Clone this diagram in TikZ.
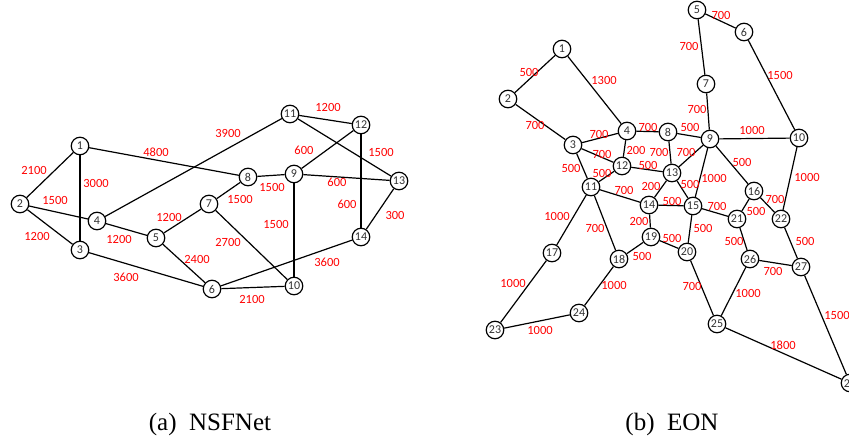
\documentclass[tikz,border=0pt]{standalone}
\usepackage{fontspec}
\setmainfont{Liberation Serif}
\newfontfamily\numfont{Carlito}
\usepackage{tikz}
\pgfdeclarelayer{bg}
\pgfsetlayers{bg,main}
\tikzset{
    site/.style={circle, inner sep=0mm, draw, line width=1.2pt, fill=white, minimum size=17.5pt,
        font=\numfont\fontsize{12}{12}\selectfont, text=black!80},
    wt/.style={inner sep=0mm, text=red, font=\numfont\fontsize{12.5}{12.5}\selectfont},
    link/.style={line width=1.2pt}
}

\begin{document}
\begin{tikzpicture}[x=1pt, y=-1pt]
    \useasboundingbox (0,0) rectangle (849,444);

    % NSFNet
    \node[site] (a1) at (80,146) {1};
    \node[site] (a2) at (20,204) {2};
    \node[site] (a3) at (80,250) {3};
    \node[site] (a4) at (97,221) {4};
    \node[site] (a5) at (156,238) {5};
    \node[site] (a6) at (212,289) {6};
    \node[site] (a7) at (209,204) {7};
    \node[site] (a8) at (248,177) {8};
    \node[site] (a9) at (294,174) {9};
    \node[site] (a10) at (294,286) {10};
    \node[site] (a11) at (290,114) {11};
    \node[site] (a12) at (361,125) {12};
    \node[site] (a13) at (399,181) {13};
    \node[site] (a14) at (361,237) {14};

    \node[wt] (wa1-2) at (34,170) {2100};
    \node[wt] (wa1-3) at (96,183) {3000};
    \node[wt] (wa1-8) at (156,152) {4800};
    \node[wt] (wa2-4) at (55,200) {1500};
    \node[wt] (wa2-3) at (37,236) {1200};
    \node[wt] (wa4-5) at (119,239) {1200};
    \node[wt] (wa5-7) at (169,217) {1200};
    \node[wt] (wa5-6) at (197,259) {2400};
    \node[wt] (wa3-6) at (126,277) {3600};
    \node[wt] (wa4-11) at (228,133) {3900};
    \node[wt] (wa11-12) at (328,107) {1200};
    \node[wt] (wa9-12) at (304,150) {600};
    \node[wt] (wa11-13) at (381,152) {1500};
    \node[wt] (wa8-9) at (272,187) {1500};
    \node[wt] (wa9-13) at (337,182) {600};
    \node[wt] (wa7-8) at (240,199) {1500};
    \node[wt] (wa12-14) at (347,204) {600};
    \node[wt] (wa13-14) at (395,215) {300};
    \node[wt] (wa9-10) at (276,224) {1500};
    \node[wt] (wa7-10) at (228,242) {2700};
    \node[wt] (wa6-14) at (327,262) {3600};
    \node[wt] (wa6-10) at (252,299) {2100};

    % EON
    \node[site] (b1) at (562,49) {1};
    \node[site] (b2) at (508,99) {2};
    \node[site] (b3) at (573,145) {3};
    \node[site] (b4) at (627,131) {4};
    \node[site] (b5) at (697,10) {5};
    \node[site] (b6) at (744,32) {6};
    \node[site] (b7) at (706,84) {7};
    \node[site] (b8) at (668,132) {8};
    \node[site] (b9) at (710,139) {9};
    \node[site] (b10) at (799,138) {10};
    \node[site] (b11) at (591,187) {11};
    \node[site] (b12) at (622,166) {12};
    \node[site] (b13) at (672,173) {13};
    \node[site] (b14) at (649,205) {14};
    \node[site] (b15) at (693,206) {15};
    \node[site] (b16) at (754,191) {16};
    \node[site] (b17) at (552,253) {17};
    \node[site] (b18) at (619,259) {18};
    \node[site] (b19) at (651,237) {19};
    \node[site] (b20) at (687,252) {20};
    \node[site] (b21) at (737,219) {21};
    \node[site] (b22) at (781,219) {22};
    \node[site] (b23) at (495,330) {23};
    \node[site] (b24) at (579,313) {24};
    \node[site] (b25) at (717,324) {25};
    \node[site] (b26) at (750,259) {26};
    \node[site] (b27) at (801,267) {27};
    \node[site] (b28) at (850,383) {28};

    \node[wt] (wb1-2) at (529,72) {500};
    \node[wt] (wb1-4) at (604,80) {1300};
    \node[wt] (wb2-3) at (535,125) {700};
    \node[wt] (wb3-4) at (599,134) {700};
    \node[wt] (wb4-8) at (648,127) {700};
    \node[wt] (wb3-12) at (602,154) {700};
    \node[wt] (wb4-12) at (636,150) {200};
    \node[wt] (wb8-13) at (659,152) {700};
    \node[wt] (wb3-11) at (571,168) {500};
    \node[wt] (wb11-12) at (602,173) {500};
    \node[wt] (wb12-13) at (648,165) {500};
    \node[wt] (wb5-6) at (721,15) {700};
    \node[wt] (wb5-7) at (689,46) {700};
    \node[wt] (wb6-10) at (780,75) {1500};
    \node[wt] (wb7-9) at (697,109) {700};
    \node[wt] (wb8-9) at (690,127) {500};
    \node[wt] (wb9-10) at (752,130) {1000};
    \node[wt] (wb9-13) at (686,152) {700};
    \node[wt] (wb9-16) at (742,162) {500};
    \node[wt] (wb9-15) at (714,178) {1000};
    \node[wt] (wb10-22) at (807,177) {1000};
    \node[wt] (wb11-14) at (624,190) {700};
    \node[wt] (wb13-14) at (651,186) {200};
    \node[wt] (wb13-15) at (690,184) {500};
    \node[wt] (wb14-15) at (672,201) {500};
    \node[wt] (wb15-21) at (717,206) {700};
    \node[wt] (wb14-19) at (639,221) {200};
    \node[wt] (wb15-20) at (703,228) {500};
    \node[wt] (wb11-18) at (595,228) {700};
    \node[wt] (wb11-17) at (557,216) {1000};
    \node[wt] (wb19-20) at (672,238) {500};
    \node[wt] (wb18-19) at (642,256) {500};
    \node[wt] (wb16-22) at (775,199) {700};
    \node[wt] (wb16-21) at (756,211) {500};
    \node[wt] (wb21-26) at (734,241) {500};
    \node[wt] (wb22-27) at (805,241) {500};
    \node[wt] (wb26-27) at (773,271) {700};
    \node[wt] (wb25-26) at (748,293) {1000};
    \node[wt] (wb17-23) at (513,283) {1000};
    \node[wt] (wb18-24) at (614,285) {1000};
    \node[wt] (wb23-24) at (540,330) {1000};
    \node[wt] (wb20-25) at (692,286) {700};
    \node[wt] (wb27-28) at (837,315) {1500};
    \node[wt] (wb25-28) at (783,345) {1800};

    % captions
    \node[inner sep=0mm, font=\fontsize{25}{25}\selectfont] (capa) at (210,424) {(a)\ \ NSFNet};
    \node[inner sep=0mm, font=\fontsize{25}{25}\selectfont] (capb) at (672,424) {(b)\ \ EON};

    \begin{pgfonlayer}{bg}
        \foreach \u/\v in {1/2, 1/3, 1/8, 2/4, 2/3, 4/11, 4/5, 5/7, 5/6, 3/6, 7/8,
                7/10, 8/9, 9/10, 9/12, 9/13, 11/12, 11/13, 12/14, 13/14, 6/14, 6/10}
            \draw[link] (a\u) -- (a\v);

        \foreach \u/\v in {1/2, 1/4, 2/3, 3/4, 3/12, 3/11, 4/8, 4/12, 8/9, 8/13,
                9/13, 5/6, 5/7, 7/9, 6/10, 9/10, 9/15, 9/16, 10/22, 12/13, 12/11,
                11/14, 11/17, 11/18, 13/14, 13/15, 14/15, 14/19, 15/21, 15/20,
                19/18, 19/20, 16/21, 16/22, 21/26, 22/27, 26/27, 26/25, 20/25,
                17/23, 18/24, 23/24, 25/28, 27/28}
            \draw[link] (b\u) -- (b\v);
    \end{pgfonlayer}
\end{tikzpicture}
\end{document}
